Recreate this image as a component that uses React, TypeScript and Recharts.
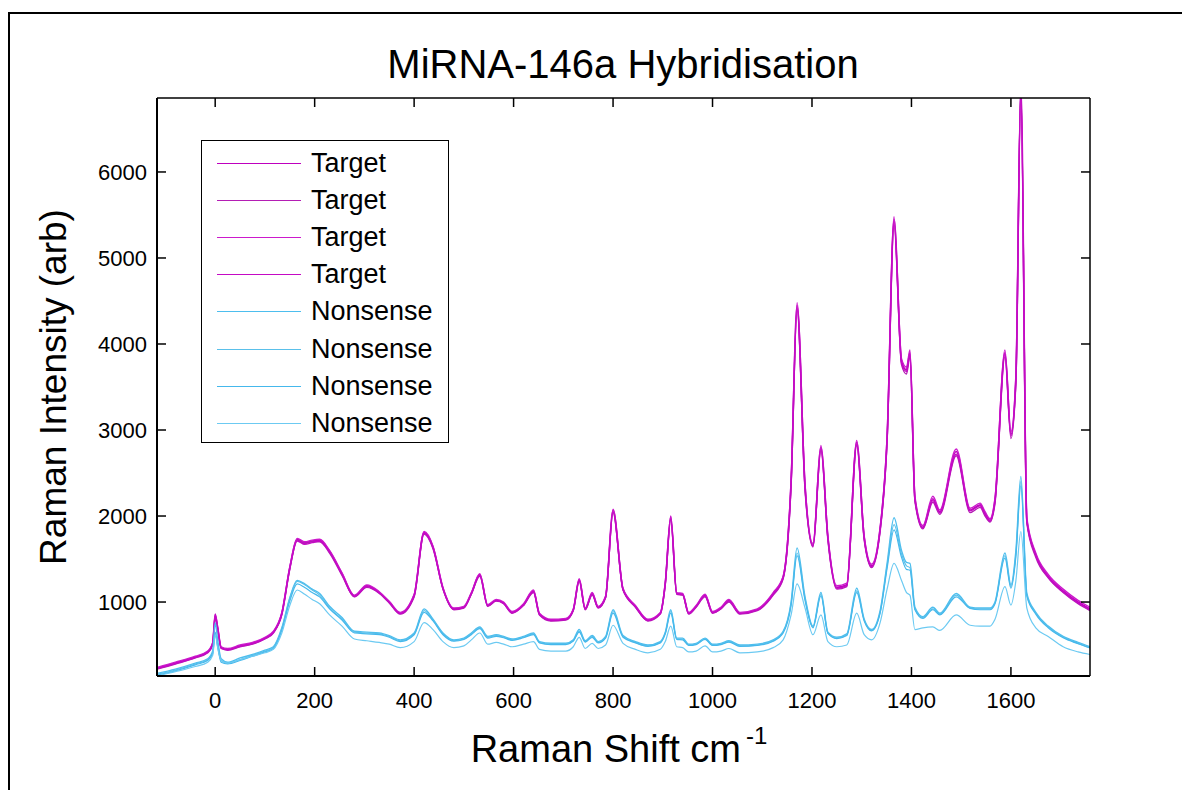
import React from "react";
import { LineChart, Line, XAxis, YAxis } from "recharts";

// Raman shift (cm-1) sample points shared by every spectrum
const SHIFT = [
  -117, -80, -40, -15, -5, 0, 5, 12, 25, 50,
  75, 100, 117, 134, 150, 165, 180, 195, 210, 230,
  255, 280, 305, 330, 350, 372, 400, 420, 438, 458,
  480, 500, 515, 532, 548, 565, 580, 597, 620, 640,
  652, 675, 705, 720, 732, 744, 758, 770, 785, 800,
  820, 845, 870, 895, 905, 916, 928, 940, 952, 967,
  985, 1000, 1017, 1033, 1055, 1090, 1122, 1142, 1158, 1170,
  1186, 1202, 1218, 1232, 1250, 1270, 1290, 1305, 1320, 1337,
  1351, 1365, 1380, 1390, 1397, 1407, 1423, 1443, 1457, 1490,
  1518, 1538, 1548, 1558, 1568, 1588, 1600, 1610, 1620, 1632,
  1650, 1675, 1705, 1735, 1759,
];

const TARGET_1 = [
  230, 290, 360, 420, 520, 860, 700, 470, 450, 490,
  520, 580, 650, 870, 1400, 1730, 1690, 1710, 1720, 1590,
  1330, 1070, 1190, 1110, 1000, 870, 1080, 1810, 1640, 1160,
  920, 940, 1100, 1320, 960, 1020, 990, 880, 970, 1130,
  860, 790, 800, 910, 1260, 920, 1100, 940, 1060, 2070,
  1150, 950, 790, 870, 1220, 1990, 1100, 1090, 870, 950,
  1080, 880, 930, 1020, 870, 910, 1100, 1290, 2400, 4450,
  2350, 1660, 2800, 1750, 1170, 1200, 2860, 1750, 1420, 1850,
  2900, 5450, 3800, 3700, 3900, 2200, 1870, 2200, 2050, 2750,
  2070, 2130, 2030, 1950, 2190, 3900, 2950, 3600, 7000, 1950,
  1550, 1300, 1130, 1000, 920,
];
const TARGET_2 = [
  220, 280, 350, 410, 500, 820, 680, 460, 440, 480,
  510, 570, 640, 850, 1380, 1720, 1680, 1700, 1700, 1570,
  1310, 1060, 1170, 1100, 990, 860, 1060, 1790, 1620, 1150,
  910, 930, 1090, 1300, 950, 1010, 980, 870, 960, 1110,
  850, 780, 790, 900, 1240, 910, 1080, 930, 1050, 2040,
  1140, 940, 780, 860, 1200, 1960, 1090, 1080, 860, 940,
  1060, 870, 920, 1000, 860, 900, 1080, 1270, 2350, 4400,
  2300, 1640, 2760, 1720, 1150, 1180, 2820, 1720, 1400, 1820,
  2860, 5380, 3760, 3650, 3850, 2170, 1850, 2160, 2020, 2700,
  2040, 2100, 2000, 1930, 2150, 3850, 2900, 3550, 7000, 1920,
  1520, 1280, 1110, 980, 900,
];
const TARGET_3 = [
  240, 300, 370, 430, 530, 850, 710, 480, 460, 500,
  530, 590, 660, 880, 1410, 1740, 1700, 1720, 1730, 1600,
  1340, 1080, 1200, 1120, 1010, 880, 1090, 1820, 1650, 1170,
  930, 950, 1110, 1330, 970, 1030, 1000, 890, 980, 1140,
  870, 800, 810, 920, 1270, 930, 1110, 950, 1070, 2080,
  1160, 960, 800, 880, 1230, 2000, 1110, 1100, 880, 960,
  1090, 890, 940, 1030, 880, 920, 1110, 1300, 2420, 4480,
  2380, 1680, 2820, 1770, 1190, 1220, 2880, 1770, 1440, 1870,
  2930, 5480, 3830, 3730, 3930, 2230, 1890, 2230, 2070, 2780,
  2090, 2150, 2050, 1970, 2210, 3930, 2980, 3650, 7000, 1980,
  1570, 1320, 1150, 1020, 940,
];
const TARGET_4 = [
  225, 285, 355, 415, 510, 840, 690, 465, 445, 485,
  515, 575, 645, 860, 1390, 1710, 1670, 1690, 1710, 1580,
  1320, 1065, 1180, 1105, 995, 865, 1070, 1800, 1630, 1155,
  915, 935, 1095, 1310, 955, 1015, 985, 875, 965, 1120,
  855, 785, 795, 905, 1250, 915, 1090, 935, 1055, 2050,
  1145, 945, 785, 865, 1210, 1970, 1095, 1085, 865, 945,
  1070, 875, 925, 1010, 865, 905, 1090, 1280, 2380, 4420,
  2330, 1650, 2780, 1740, 1160, 1190, 2840, 1740, 1410, 1840,
  2880, 5420, 3780, 3680, 3880, 2190, 1860, 2180, 2040, 2720,
  2060, 2120, 2020, 1940, 2170, 3880, 2930, 3580, 6950, 1940,
  1540, 1290, 1120, 990, 910,
];

const NONSENSE_1 = [
  170, 220, 290, 340, 430, 760, 560, 340, 300, 350,
  390, 440, 480, 700, 1050, 1250, 1210, 1150, 1100, 950,
  820, 660, 650, 640, 610, 560, 640, 920, 800, 640,
  560, 580, 640, 710, 600, 620, 600, 570, 600, 640,
  540, 520, 520, 560, 680, 550, 610, 540, 600, 910,
  610, 540, 500, 540, 650, 910, 580, 580, 510, 520,
  580, 510, 520, 550, 500, 510, 560, 660, 1000, 1630,
  1060, 720, 1110, 650, 590, 630, 1160, 800, 680, 900,
  1450, 1980, 1600, 1460, 1450, 940, 830, 940, 870, 1100,
  940, 930, 930, 930, 1000, 1570, 1200, 1600, 2460, 1100,
  880, 720, 600, 530, 480,
];
const NONSENSE_2 = [
  160, 210, 280, 330, 410, 650, 500, 320, 290, 330,
  380, 430, 470, 690, 1040, 1240, 1200, 1140, 1080, 930,
  800, 650, 640, 630, 600, 550, 630, 900, 790, 630,
  550, 570, 630, 700, 590, 610, 590, 560, 590, 630,
  530, 510, 510, 550, 660, 540, 600, 530, 590, 890,
  600, 530, 490, 530, 640, 890, 570, 570, 500, 510,
  570, 500, 510, 540, 490, 500, 550, 650, 980, 1570,
  1040, 710, 1090, 640, 580, 620, 1130, 790, 670, 880,
  1420, 1900, 1560, 1420, 1400, 920, 820, 920, 860, 1080,
  930, 920, 920, 920, 990, 1540, 1180, 1560, 2400, 1080,
  870, 710, 590, 520, 470,
];
const NONSENSE_3 = [
  150, 200, 270, 320, 400, 640, 480, 300, 280, 320,
  370, 420, 460, 670, 1010, 1210, 1170, 1110, 1060, 920,
  790, 640, 630, 620, 590, 540, 620, 880, 780, 620,
  545, 565, 620, 690, 580, 600, 585, 555, 585, 620,
  525, 505, 505, 545, 650, 535, 590, 525, 580, 870,
  590, 525, 485, 525, 630, 870, 565, 560, 495, 505,
  565, 495, 505, 535, 485, 495, 545, 640, 960, 1540,
  1020, 700, 1070, 635, 575, 610, 1110, 780, 665, 870,
  1390, 1840, 1520, 1380, 1370, 910, 810, 910, 850, 1060,
  925, 910, 910, 910, 980, 1510, 1160, 1530, 2350, 1070,
  860, 700, 585, 515, 465,
];
const NONSENSE_4 = [
  140, 190, 250, 300, 380, 620, 470, 320, 290, 330,
  370, 410, 450, 640, 960, 1140, 1090, 1030, 980, 850,
  720, 570, 550, 530, 510, 470, 540, 760, 680, 540,
  470, 490, 560, 640, 510, 530, 510, 480, 510, 540,
  450, 430, 430, 480, 590, 460, 520, 460, 500, 730,
  520, 450, 410, 450, 540, 720, 480, 470, 420, 430,
  490, 420, 430, 460, 410, 420, 470, 560, 850, 1210,
  930, 620, 850, 540, 480, 500, 870, 620, 560, 760,
  1150, 1450, 1250, 1110, 1080, 680, 700, 710, 670, 850,
  730, 720, 720, 720, 800, 1180, 965, 1250, 1820, 930,
  700, 600, 480, 420, 390,
];

const X_TICKS = [0, 200, 400, 600, 800, 1000, 1200, 1400, 1600];
const Y_TICKS = [1000, 2000, 3000, 4000, 5000, 6000];

const SERIES = [
  { key: "t1", name: "Target", color: "#BE00BE", width: 1.6, values: TARGET_1 },
  { key: "t2", name: "Target", color: "#B41EB4", width: 1.4, values: TARGET_2 },
  { key: "t3", name: "Target", color: "#CC1ACC", width: 1.4, values: TARGET_3 },
  { key: "t4", name: "Target", color: "#C40AC4", width: 1.4, values: TARGET_4 },
  { key: "n1", name: "Nonsense", color: "#4DBEEE", width: 1.4, values: NONSENSE_1 },
  { key: "n2", name: "Nonsense", color: "#5AC0EA", width: 1.2, values: NONSENSE_2 },
  { key: "n3", name: "Nonsense", color: "#45B8EC", width: 1.2, values: NONSENSE_3 },
  { key: "n4", name: "Nonsense", color: "#6CCAF2", width: 1.2, values: NONSENSE_4 },
];

const data = SHIFT.map((x, i) => {
  const row: Record<string, number> = { x };
  SERIES.forEach((s) => (row[s.key] = s.values[i]));
  return row;
});

const FONT = "'Liberation Sans', Arial, Helvetica, sans-serif";
const TICK_LEN = 9;

const BottomTick = ({ x, y, payload }: any) => (
  <g>
    <line x1={x} x2={x} y1={y} y2={y - TICK_LEN} stroke="#000" strokeWidth={1.5} />
    <text x={x} y={y + 32} textAnchor="middle" fontSize={22} fontFamily={FONT} fill="#000">
      {payload.value}
    </text>
  </g>
);
const TopTick = ({ x, y }: any) => (
  <line x1={x} x2={x} y1={y} y2={y + TICK_LEN} stroke="#000" strokeWidth={1.5} />
);
const LeftTick = ({ x, y, payload }: any) => (
  <g>
    <line x1={x} x2={x + TICK_LEN} y1={y} y2={y} stroke="#000" strokeWidth={1.5} />
    <text x={x - 10} y={y + 8} textAnchor="end" fontSize={22} fontFamily={FONT} fill="#000">
      {payload.value}
    </text>
  </g>
);
const RightTick = ({ x, y }: any) => (
  <line x1={x} x2={x - TICK_LEN} y1={y} y2={y} stroke="#000" strokeWidth={1.5} />
);

export default function App() {
  return (
    <div style={{ position: "absolute", left: 0, top: 0, width: 1182, height: 790, overflow: "hidden", background: "#fff" }}>
      <div
        style={{
          position: "absolute", left: 8, top: 12, width: 1174, height: 778,
          borderTop: "2px solid #000", borderLeft: "2px solid #000", boxSizing: "border-box",
        }}
      />
      <div style={{ position: "absolute", left: 0, top: 0 }}>
        <LineChart width={1182} height={790} data={data} margin={{ top: 97, right: 91, bottom: 113, left: 156 }}>
          <XAxis
            xAxisId="b" dataKey="x" type="number" domain={[-117, 1759]} allowDataOverflow
            ticks={X_TICKS} interval={0} height={1} tickSize={0} tickMargin={0} tickLine={false}
            axisLine={{ stroke: "#000", strokeWidth: 2 }} tick={BottomTick}
          />
          <XAxis
            xAxisId="t" orientation="top" dataKey="x" type="number" domain={[-117, 1759]} allowDataOverflow
            ticks={X_TICKS} interval={0} height={1} tickSize={0} tickMargin={0} tickLine={false}
            axisLine={{ stroke: "#000", strokeWidth: 1.5 }} tick={TopTick}
          />
          <YAxis
            yAxisId="l" type="number" domain={[140, 6860]} allowDataOverflow
            ticks={Y_TICKS} interval={0} width={1} tickSize={0} tickMargin={0} tickLine={false}
            axisLine={{ stroke: "#000", strokeWidth: 2 }} tick={LeftTick}
          />
          <YAxis
            yAxisId="r" orientation="right" type="number" domain={[140, 6860]} allowDataOverflow
            ticks={Y_TICKS} interval={0} width={1} tickSize={0} tickMargin={0} tickLine={false}
            axisLine={{ stroke: "#000", strokeWidth: 1.5 }} tick={RightTick}
          />
          {SERIES.map((s) => (
            <Line
              key={s.key} xAxisId="b" yAxisId="l" type="monotone" dataKey={s.key} name={s.name}
              stroke={s.color} strokeWidth={s.width} dot={false} activeDot={false} isAnimationActive={false}
            />
          ))}
        </LineChart>
      </div>
      <svg width={1182} height={790} style={{ position: "absolute", left: 0, top: 0, pointerEvents: "none" }}>
        <text x={623} y={78} textAnchor="middle" fontSize={40} fontFamily={FONT} fill="#000">
          MiRNA-146a Hybridisation
        </text>
        <text x={619} y={762} textAnchor="middle" fontSize={38} fontFamily={FONT} fill="#000">
          Raman Shift cm
          <tspan fontSize={24} dx={5} dy={-18}>-1</tspan>
        </text>
        <text transform="translate(66,387) rotate(-90)" textAnchor="middle" fontSize={37} fontFamily={FONT} fill="#000">
          Raman Intensity (arb)
        </text>
      </svg>
      <div
        style={{
          position: "absolute", left: 201, top: 140, width: 248, height: 303,
          border: "1.5px solid #000", boxSizing: "border-box", background: "#fff",
        }}
      >
        {SERIES.map((s, i) => (
          <div
            key={s.key}
            style={{ position: "absolute", left: 15, top: 4 + i * 37.2, height: 36, display: "flex", alignItems: "center" }}
          >
            <div style={{ width: 84, height: 0, borderTop: `1.5px solid ${s.color}` }} />
            <span style={{ marginLeft: 10, fontSize: 27, fontFamily: FONT, color: "#000", whiteSpace: "nowrap" }}>
              {s.name}
            </span>
          </div>
        ))}
      </div>
    </div>
  );
}
